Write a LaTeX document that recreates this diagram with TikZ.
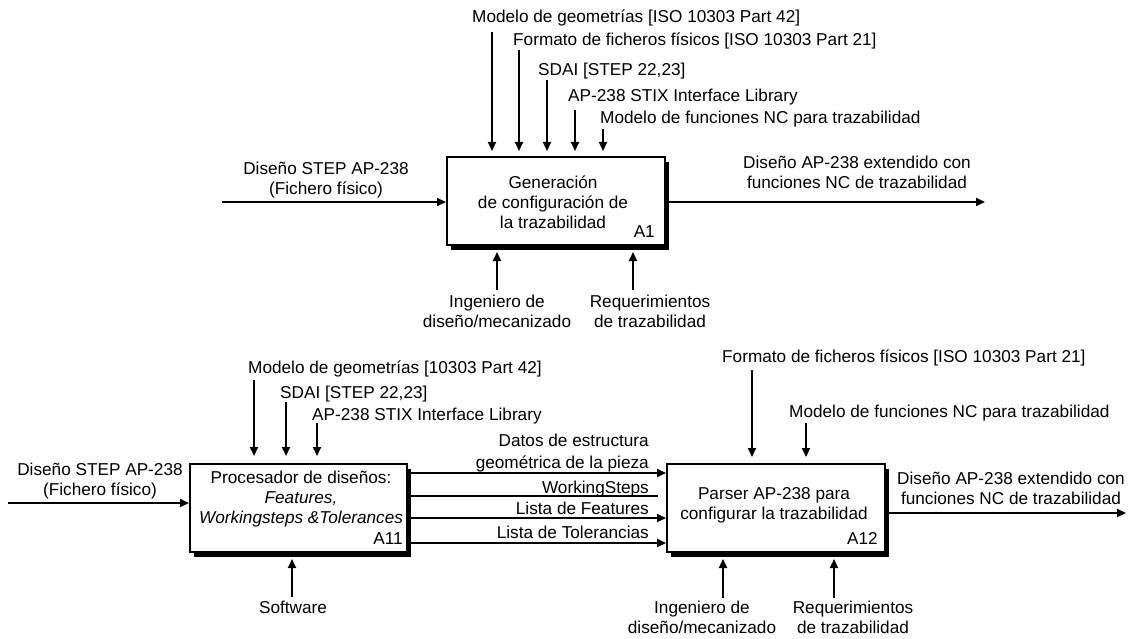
\documentclass[tikz,border=0pt]{standalone}
\usepackage{fontspec}
\setmainfont{Liberation Sans}
\usetikzlibrary{arrows.meta,shadows}
\begin{document}
\begin{tikzpicture}[x=1pt,y=-1pt,
  every node/.style={font=\fontsize{17.2}{20}\selectfont, inner sep=0pt},
  actbox/.style={draw, line width=2pt, fill=white, minimum width=218pt, minimum height=88pt,
    drop shadow={shadow xshift=4pt, shadow yshift=-5pt, opacity=1, fill=black}},
  flow/.style={line width=1.8pt, -{Triangle[length=9pt,width=8pt]}},
  plain/.style={line width=1.8pt},
  lbl/.style={align=center, anchor=base}]

\fill[white] (0,0) rectangle (1131,639);
\useasboundingbox (0,0) rectangle (1131,639);

% multi-line labels are placed by the baseline of their last line

% ---------------- A1 ----------------
\node[actbox] (A1) at (556,201) {};
\node[lbl] (A1txt) at (553,228) {Generación\\de configuración de\\la trazabilidad};
\node[anchor=base east] (A1id) at (655,237) {A1};

\node[anchor=base west] (c1) at (472,23) {Modelo de geometrías [ISO 10303 Part 42]};
\node[anchor=base west] (c2) at (513,46) {Formato de ficheros físicos [ISO 10303 Part 21]};
\node[anchor=base west] (c3) at (538,76) {SDAI [STEP 22,23]};
\node[anchor=base west] (c4) at (568,102) {AP-238 STIX Interface Library};
\node[anchor=base west] (c5) at (600,124) {Modelo de funciones NC para trazabilidad};
\coordinate (c1s) at (492,32);
\coordinate (c2s) at (519,50);
\coordinate (c3s) at (547,80);
\coordinate (c4s) at (575,110);
\coordinate (c5s) at (603,129);
\foreach \c in {c1s,c2s,c3s,c4s,c5s}
  \draw[flow, shorten >=5pt] (\c) -- (\c |- A1.north);

\node[lbl] (i1) at (326,194) {Diseño STEP AP-238\\(Fichero físico)};
\coordinate (i1s) at (222,202);
\draw[flow] (i1s) -- (i1s -| A1.west);

\node[lbl] (o1) at (857,188) {Diseño AP-238 extendido con\\funciones NC de trazabilidad};
\coordinate (o1e) at (985,202);
\draw[flow] (o1e -| A1.east) -- (o1e);

\node[lbl] (m1) at (497,327) {Ingeniero de\\diseño/mecanizado};
\node[lbl] (m2) at (650,327) {Requerimientos\\de trazabilidad};
\coordinate (m1s) at (497,290);
\coordinate (m2s) at (633,290);
\draw[flow, shorten >=6pt] (m1s) -- (m1s |- A1.south);
\draw[flow, shorten >=6pt] (m2s) -- (m2s |- A1.south);

% ---------------- A11 ----------------
\node[actbox, minimum width=217pt] (A11) at (298.5,508) {};
\node[lbl] (A11txt) at (301,523) {Procesador de diseños:\\\textit{Features,}\\\textit{Workingsteps \&Tolerances}};
\node[anchor=base east] (A11id) at (403,544) {A11};

\node[anchor=base west] (d1) at (248,373) {Modelo de geometrías [10303 Part 42]};
\node[anchor=base west] (d2) at (280,398) {SDAI [STEP 22,23]};
\node[anchor=base west] (d3) at (312,420) {AP-238 STIX Interface Library};
\coordinate (d1s) at (254,380);
\coordinate (d2s) at (286,402);
\coordinate (d3s) at (317,423);
\foreach \c in {d1s,d2s,d3s}
  \draw[flow, shorten >=7pt] (\c) -- (\c |- A11.north);

\node[lbl] (i2) at (100,495) {Diseño STEP AP-238\\(Fichero físico)};
\coordinate (i2s) at (8,503);
\draw[flow] (i2s) -- (i2s -| A11.west);

\node[lbl] (sw) at (293,613) {Software};
\coordinate (sws) at (292,597);
\draw[flow, shorten >=6pt] (sws) -- (sws |- A11.south);

% flows between A11 and A12
\node[anchor=base east, align=right] (f1) at (649,468) {Datos de estructura\\[2pt]geométrica de la pieza};
\node[anchor=base east] (f2) at (649,493) {WorkingSteps};
\node[anchor=base east] (f3) at (649,514) {Lista de Features};
\node[anchor=base east] (f4) at (649,538) {Lista de Tolerancias};
\coordinate (f1y) at (600,473);
\coordinate (f2e) at (658,496);
\coordinate (f3y) at (600,518);
\coordinate (f4y) at (600,543);

% ---------------- A12 ----------------
\node[actbox] (A12) at (776,508) {};
\node[lbl] (A12txt) at (774,519) {Parser AP-238 para\\configurar la trazabilidad};
\node[anchor=base east] (A12id) at (878,544) {A12};

\draw[flow] (f1y -| A11.east) -- (f1y -| A12.west);
\draw[plain] (f2e -| A11.east) -- (f2e);
\draw[flow] (f3y -| A11.east) -- (f3y -| A12.west);
\draw[flow] (f4y -| A11.east) -- (f4y -| A12.west);

\node[anchor=base west] (e1) at (722,362) {Formato de ficheros físicos [ISO 10303 Part 21]};
\node[anchor=base west] (e2) at (789,417) {Modelo de funciones NC para trazabilidad};
\coordinate (e1s) at (752,370);
\coordinate (e2s) at (806,423);
\draw[flow, shorten >=6pt] (e1s) -- (e1s |- A12.north);
\draw[flow, shorten >=6pt] (e2s) -- (e2s |- A12.north);

\node[lbl] (o2) at (1011,504) {Diseño AP-238 extendido con\\funciones NC de trazabilidad};
\coordinate (o2e) at (1126,513);
\draw[flow] (o2e -| A12.east) -- (o2e);

\node[lbl] (n1) at (702,633) {Ingeniero de\\diseño/mecanizado};
\node[lbl] (n2) at (853,633) {Requerimientos\\de trazabilidad};
\coordinate (n1s) at (723,598);
\coordinate (n2s) at (834,598);
\draw[flow, shorten >=6pt] (n1s) -- (n1s |- A12.south);
\draw[flow, shorten >=6pt] (n2s) -- (n2s |- A12.south);

\end{tikzpicture}
\end{document}
